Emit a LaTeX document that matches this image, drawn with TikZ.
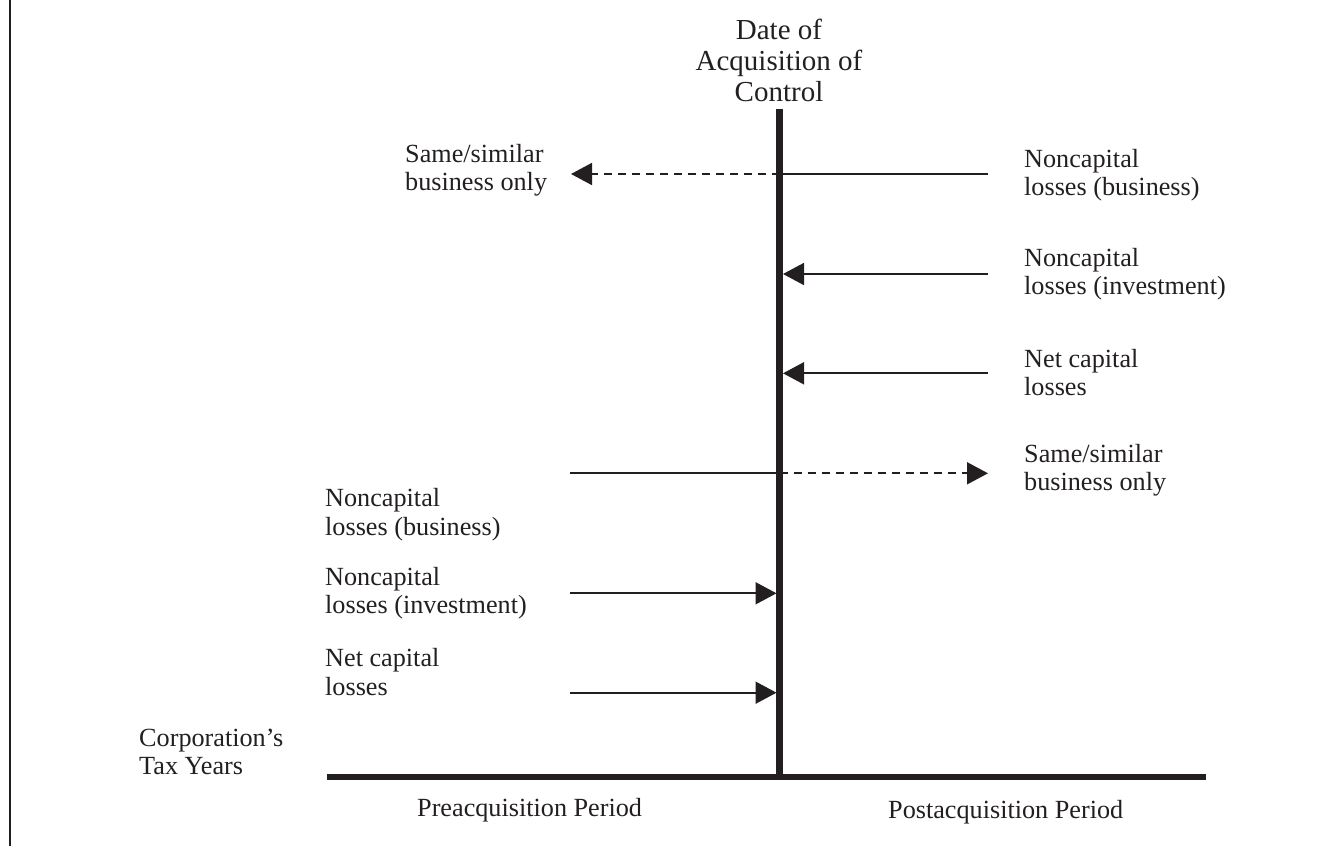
\documentclass[tikz,border=0pt]{standalone}
\usepackage{fontspec}
\setmainfont{Liberation Serif}
\usetikzlibrary{arrows.meta}
\definecolor{ink}{RGB}{35,31,32}
\tikzset{
  lbl/.style={anchor=base west, inner sep=0pt, text=ink, font=\fontsize{26.2}{28.4}\selectfont},
  axis/.style={draw=ink, line width=6.5pt},
  conn/.style={draw=ink, line width=1.8pt},
  dconn/.style={conn, dash pattern=on 8pt off 6pt},
  tip/.style={-{Triangle[length=21pt,width=22pt]}}
}
\newcommand{\twolines}[2]{\vtop{\hbox{#1}\hbox{#2}}}
\begin{document}
\begin{tikzpicture}[x=1pt,y=-1pt]
\useasboundingbox (0,0) rectangle (1342,846);
% left border
\draw[ink, line width=2.5pt] (10,0) -- (10,846);
% axes
\coordinate (vtop) at (779.5,109);
\coordinate (vbot) at (779.5,780);
\coordinate (hl) at (327,777);
\coordinate (hr) at (1206,777);
\draw[axis] (vtop) -- (vbot);
\draw[axis] (hl) -- (hr);
% top label
\node[anchor=base, inner sep=0pt, text=ink, font=\fontsize{29}{31.2}\selectfont] (date) at (779,39.3)
  {\vtop{\hbox to 0pt{\hss Date of\hss}\hbox to 0pt{\hss Acquisition of\hss}\hbox to 0pt{\hss Control\hss}}};
% right labels
\node[lbl] (r1) at (1024,167) {\twolines{Noncapital}{losses (business)}};
\node[lbl] (r2) at (1024,266.5) {\twolines{Noncapital}{losses (investment)}};
\node[lbl] (r3) at (1024,367.5) {\twolines{Net capital}{losses}};
\node[lbl] (r4) at (1024,462) {\twolines{Same/similar}{business only}};
% left labels
\node[lbl] (l0) at (405,162) {\twolines{Same/similar}{business only}};
\node[lbl] (l1) at (325,506.7) {\twolines{Noncapital}{losses (business)}};
\node[lbl] (l2) at (325,585) {\twolines{Noncapital}{losses (investment)}};
\node[lbl] (l3) at (325,666.7) {\twolines{Net capital}{losses}};
\node[lbl] (corp) at (139,746) {\twolines{Corporation's}{Tax Years}};
\node[lbl] (pre) at (417,816) {Preacquisition Period};
\node[lbl] (post) at (888,818) {Postacquisition Period};
% connector coordinates
\coordinate (a1s) at (988,174);   \coordinate (a1m) at (779.5,174);  \coordinate (a1e) at (571,174);
\coordinate (a2s) at (988,274);   \coordinate (a2e) at (783,274);
\coordinate (a3s) at (988,373.3); \coordinate (a3e) at (783,373.3);
\coordinate (a4s) at (570,473.3); \coordinate (a4m) at (779.5,473.3); \coordinate (a4e) at (988,473.3);
\coordinate (a5s) at (570,593.3); \coordinate (a5e) at (776.5,593.3);
\coordinate (a6s) at (570,692.7); \coordinate (a6e) at (776.5,692.7);
% connectors
\draw[conn] (a1s) -- (a1m);
\draw[dconn, tip] (a1m) -- (a1e);
\draw[conn, tip] (a2s) -- (a2e);
\draw[conn, tip] (a3s) -- (a3e);
\draw[conn] (a4s) -- (a4m);
\draw[dconn, tip] (a4m) -- (a4e);
\draw[conn, tip] (a5s) -- (a5e);
\draw[conn, tip] (a6s) -- (a6e);
\end{tikzpicture}
\end{document}
